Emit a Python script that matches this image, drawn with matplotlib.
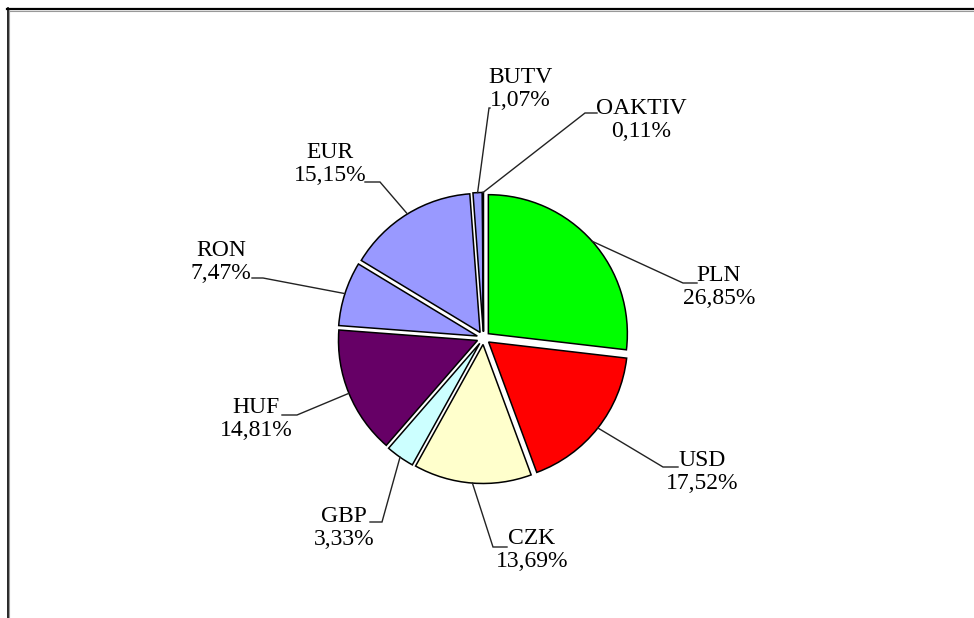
import numpy as np
import matplotlib
matplotlib.use('Agg')
import matplotlib.pyplot as plt

# 데이터
labels = ['PLN', 'USD', 'CZK', 'GBP', 'HUF', 'RON', 'EUR', 'BUTV', 'OAKTIV']
values = [26.85, 17.52, 13.69, 3.33, 14.81, 7.47, 15.15, 1.07, 0.11]
colors = ['#00FF00', '#FF0000', '#FFFFCC', '#CCFFFF', '#660066',
          '#9999FF', '#9999FF', '#9999FF', '#000080']

W, H = 974, 618

def px(x, y):
    # 픽셀 좌표(위에서 아래로) -> 데이터 좌표
    return x, H - y

# 라벨 위치 (텍스트 중심, 꺾이는 점, 끝점) - 픽셀
label_pos = {
    'PLN':    ((719, 287), (683, 283), (697, 283)),
    'USD':    ((702, 472), (663, 467), (678, 467)),
    'CZK':    ((532, 550), (493, 547), (507, 547)),
    'GBP':    ((344, 528), (382, 522), (370, 522)),
    'HUF':    ((256, 419), (297, 415), (282, 415)),
    'RON':    ((221, 262), (263, 278), (252, 278)),
    'EUR':    ((330, 164), (380, 182), (365, 182)),
    'BUTV':   ((520, 89), (489, 108), (490, 108)),
    'OAKTIV': ((641, 120), (585, 113), (597, 113)),
}

fig = plt.figure(figsize=(W / 100, H / 100), dpi=100)
ax = fig.add_axes([0, 0, 1, 1])

cx, cy = px(483.5, 338)
radius = 139
explode = [6.5] * len(values)  # pie의 explode는 데이터 단위로 적용됨

wedges, _ = ax.pie(values, colors=colors, explode=explode, startangle=90,
                   counterclock=False, center=(cx, cy), radius=radius,
                   frame=True,
                   wedgeprops={'edgecolor': 'black', 'linewidth': 1.1})

ax.set_xlim(0, W)
ax.set_ylim(0, H)
ax.set_aspect('equal')
ax.axis('off')

# 라벨과 지시선
for w, lab, v in zip(wedges, labels, values):
    ang = np.deg2rad((w.theta1 + w.theta2) / 2)
    wx, wy = w.center
    sx = wx + w.r * np.cos(ang)
    sy = wy + w.r * np.sin(ang)
    (tx, ty), elbow, end = label_pos[lab]
    ex, ey = px(*elbow)
    fx, fy = px(*end)
    ax.plot([sx, ex, fx], [sy, ey, fy], color='#222222', lw=1.0,
            solid_joinstyle='miter')
    txt = lab + '\n' + f'{v:.2f}'.replace('.', ',') + '%'
    ax.text(*px(tx, ty), txt, ha='center', va='center', multialignment='center',
            fontsize=17, family='Liberation Serif', color='black', linespacing=1.1)

# 테두리 (위, 왼쪽)
ax.plot([7, W], [H - 9, H - 9], color='black', lw=1.6, clip_on=False)
ax.plot([9, W], [H - 10.5, H - 10.5], color='#999999', lw=0.8, clip_on=False)
ax.plot([7.7, 7.7], [0, H - 8], color='black', lw=1.2, clip_on=False)
ax.plot([9, 9], [0, H - 10], color='#999999', lw=0.8, clip_on=False)

fig.savefig('out.png', dpi=100, facecolor='white')
